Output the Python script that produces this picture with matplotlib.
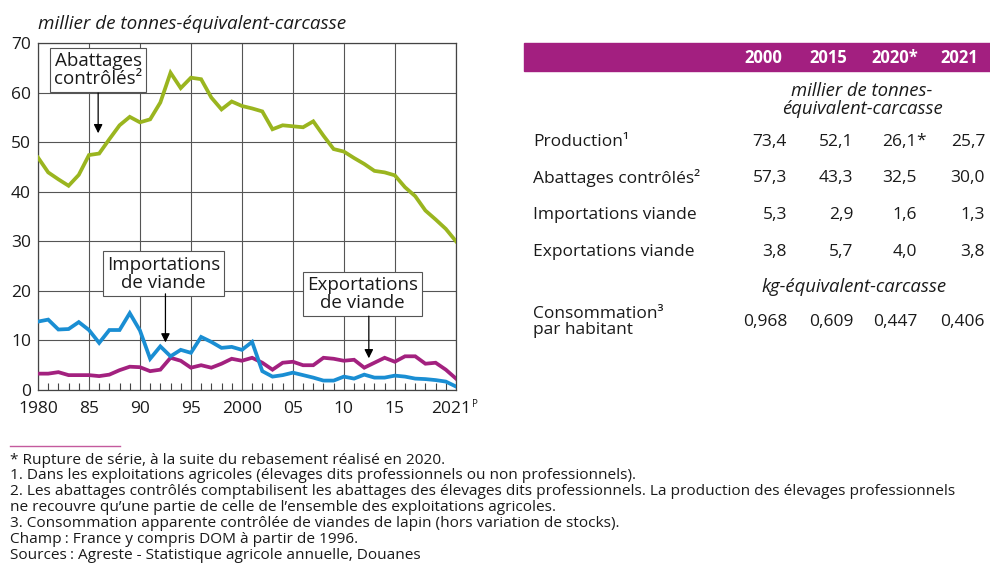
import matplotlib
matplotlib.use("Agg")
import matplotlib.pyplot as plt
import matplotlib.transforms as mtransforms
from matplotlib.patches import Rectangle
from matplotlib.lines import Line2D

plt.rcParams['font.family'] = ['Open Sans', 'DejaVu Sans']

# ---------------- data ----------------
years = list(range(1980, 2022))
abattages = [46.9, 43.9, 42.5, 41.2, 43.4, 47.4, 47.7, 50.6, 53.4, 55.1,
             54.0, 54.6, 58.0, 64.0, 60.9, 63.0, 62.7, 59.0, 56.6, 58.2,
             57.3, 56.8, 56.2, 52.6, 53.4, 53.2, 53.0, 54.2, 51.3, 48.6,
             48.1, 46.8, 45.6, 44.2, 43.9, 43.3, 40.9, 39.1, 36.2, 34.4,
             32.5, 30.0]
importations = [13.8, 14.2, 12.2, 12.3, 13.7, 12.1, 9.5, 12.1, 12.1, 15.5,
                12.0, 6.3, 8.8, 6.8, 8.1, 7.5, 10.7, 9.7, 8.5, 8.7,
                8.1, 9.7, 3.8, 2.7, 3.0, 3.5, 3.0, 2.5, 1.9, 1.9,
                2.7, 2.3, 3.1, 2.5, 2.5, 2.9, 2.7, 2.3, 2.2, 2.0,
                1.7, 0.7]
exportations = [3.3, 3.3, 3.6, 3.0, 3.0, 3.0, 2.8, 3.1, 4.0, 4.7,
                4.6, 3.8, 4.1, 6.5, 5.9, 4.5, 5.0, 4.5, 5.3, 6.3,
                5.9, 6.5, 5.5, 4.1, 5.5, 5.7, 5.0, 5.0, 6.5, 6.3,
                5.9, 6.1, 4.5, 5.5, 6.5, 5.7, 6.8, 6.8, 5.3, 5.5,
                4.1, 2.3]

xtick_pos = [1980, 1985, 1990, 1995, 2000, 2005, 2010, 2015, 2021]
xtick_labels = ['1980', '85', '90', '95', '2000', '05', '10', '15', '2021']
yticks = [0, 10, 20, 30, 40, 50, 60, 70]

table_years = ['2000', '2015', '2020*', '2021']
tab_production = [73.4, 52.1, 26.1, 25.7]
tab_abattages = [57.3, 43.3, 32.5, 30.0]
tab_importations = [5.3, 2.9, 1.6, 1.3]
tab_exportations = [3.8, 5.7, 4.0, 3.8]
tab_consommation = [0.968, 0.609, 0.447, 0.406]
production_break = [False, False, True, False]

footnotes = [
    "* Rupture de série, à la suite du rebasement réalisé en 2020.",
    "1. Dans les exploitations agricoles (élevages dits professionnels ou non professionnels).",
    "2. Les abattages contrôlés comptabilisent les abattages des élevages dits professionnels. La production des élevages professionnels",
    "ne recouvre qu\u2019une partie de celle de l\u2019ensemble des exploitations agricoles.",
    "3. Consommation apparente contrôlée de viandes de lapin (hors variation de stocks).",
    "Champ\u202f: France y compris DOM à partir de 1996.",
    "Sources\u202f: Agreste - Statistique agricole annuelle, Douanes",
]

GREEN = '#9ab51f'
BLUE = '#1a8ed3'
MAGENTA = '#a3217f'
BAND = '#a31f80'
TXT = '#1a1a1a'

W, H = 990, 567
def fx(p):
    return p / W
def fy(p):
    return 1 - p / H

fig = plt.figure(figsize=(9.9, 5.67), dpi=100)

ax = fig.add_axes([fx(38), fy(390), (456 - 38) / W, (390 - 43) / H])
ax.plot(years, exportations, color=MAGENTA, lw=2.7, solid_joinstyle='miter', zorder=3)
ax.plot(years, importations, color=BLUE, lw=2.7, solid_joinstyle='miter', zorder=4)
ax.plot(years, abattages, color=GREEN, lw=2.7, solid_joinstyle='miter', zorder=5)

ax.set_xlim(1980, 2021)
ax.set_ylim(0, 70)
ax.set_xticks(xtick_pos)
ax.set_xticklabels(xtick_labels)
ax.set_xticks(years, minor=True)
ax.set_yticks(yticks)
ax.tick_params(axis='x', which='major', length=0, pad=8, labelsize=12.5, colors=TXT)
ax.tick_params(axis='x', which='minor', direction='in', length=5, width=0.8, color='#444')
ax.tick_params(axis='y', which='major', length=0, pad=5, labelsize=12.5, colors=TXT)
ax.grid(True, which='major', color='#555555', lw=0.8)
ax.set_axisbelow(True)
for s in ax.spines.values():
    s.set_color('#444444')
    s.set_linewidth(0.9)

# shift the last tick label a little left and add superscript P
last = ax.get_xticklabels()[-1]
last.set_transform(last.get_transform() +
                   mtransforms.ScaledTranslation(-5 / 100, 0, fig.dpi_scale_trans))
ax.annotate('P', xy=(2021, 0), xycoords='data', xytext=(11.5, -10.5),
            textcoords='offset points', fontsize=7, ha='left', va='center',
            color=TXT, annotation_clip=False)

# annotations
box = dict(boxstyle='square,pad=0.22', fc='white', ec='#555555', lw=0.8)
arrow = dict(arrowstyle='-|>', color='black', lw=0.9, mutation_scale=13,
             shrinkA=0, shrinkB=0)

ax.text(1985.9, 64.6, 'Abattages\ncontrôlés\u00b2', ha='center', va='center',
        fontsize=13.5, color=TXT, bbox=box, zorder=6, linespacing=1.0)
ax.annotate('', xy=(1985.9, 51.8), xytext=(1985.9, 59.9), arrowprops=arrow, zorder=6)

ax.text(1992.3, 23.5, 'Importations\nde viande', ha='center', va='center',
        fontsize=13.5, color=TXT, bbox=box, zorder=6, linespacing=1.0)
ax.annotate('', xy=(1992.5, 9.6), xytext=(1992.5, 19.4), arrowprops=arrow, zorder=6)

ax.text(2011.8, 19.3, 'Exportations\nde viande', ha='center', va='center',
        fontsize=13.5, color=TXT, bbox=box, zorder=6, linespacing=1.0)
ax.annotate('', xy=(2012.45, 6.4), xytext=(2012.45, 14.9), arrowprops=arrow, zorder=6)

# chart unit title
fig.text(fx(38), fy(24), 'millier de tonnes-équivalent-carcasse', style='italic',
         fontsize=13.6, ha='left', va='center', color=TXT)

# ---------------- table ----------------
fig.patches.append(Rectangle((fx(524), fy(71)), (W - 524) / W, 28 / H,
                             transform=fig.transFigure, color=BAND, zorder=0))
head_x = [763, 828, 895, 959]
for x, yr in zip(head_x, table_years):
    fig.text(fx(x), fy(58), yr, color='white', fontweight='bold', fontsize=12,
             ha='center', va='center')

fig.text(fx(862), fy(100), 'millier de tonnes-\néquivalent-carcasse', style='italic',
         fontsize=13.3, ha='center', va='center', color=TXT, linespacing=0.95,
         multialignment='center')
fig.text(fx(854), fy(287), 'kg-équivalent-carcasse', style='italic', fontsize=13.3,
         ha='center', va='center', color=TXT)

col_right = [787, 853, 917, 985]
label_x = 533

def fmt(v, nd):
    return f"{v:.{nd}f}".replace('.', ',')

rows = [
    ('Production\u00b9', tab_production, 1, 142, production_break),
    ('Abattages contrôlés\u00b2', tab_abattages, 1, 178, None),
    ('Importations viande', tab_importations, 1, 215, None),
    ('Exportations viande', tab_exportations, 1, 252, None),
]
for label, vals, nd, y, brk in rows:
    fig.text(fx(label_x), fy(y), label, fontsize=12.5, ha='left', va='center', color=TXT)
    for i, (x, v) in enumerate(zip(col_right, vals)):
        fig.text(fx(x), fy(y), fmt(v, nd), fontsize=12.5, ha='right', va='center', color=TXT)
        if brk is not None and brk[i]:
            fig.text(fx(x - 0.5), fy(y - 1), '*', fontsize=12.5, ha='left', va='center', color=TXT)

fig.text(fx(label_x), fy(322), 'Consommation\u00b3\npar habitant', fontsize=12.5,
         ha='left', va='center', color=TXT, linespacing=0.95)
for x, v in zip(col_right, tab_consommation):
    fig.text(fx(x), fy(322), fmt(v, 3), fontsize=12.5, ha='right', va='center', color=TXT)

# ---------------- footnotes ----------------
fig.add_artist(Line2D([fx(10), fx(120)], [fy(446), fy(446)], transform=fig.transFigure,
                      color='#c45a9e', lw=1.0))
for i, line in enumerate(footnotes):
    fig.text(fx(10), fy(460 + i * 15.9), line, fontsize=11.1, ha='left', va='center', color=TXT)

fig.savefig('out.png', dpi=100)
